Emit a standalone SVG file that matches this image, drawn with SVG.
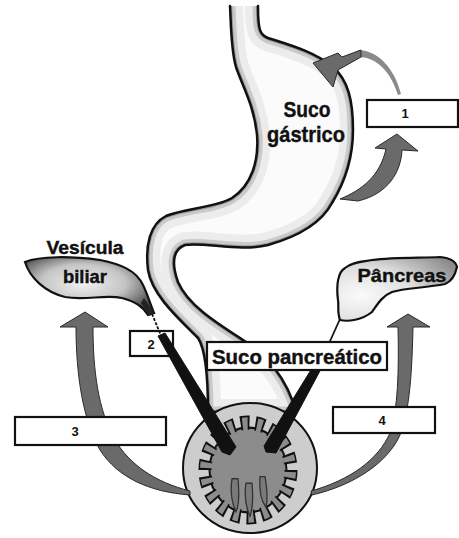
<svg xmlns="http://www.w3.org/2000/svg" width="459" height="538" viewBox="0 0 459 538">
  <style>
    .outline { fill: none; stroke: #111; stroke-width: 2.5; stroke-linejoin: round; stroke-linecap: round; }
    .organ-label { font-family: "Liberation Sans Narrow", "Liberation Sans", Arial, sans-serif; font-weight: bold; fill: #111; stroke: #111; stroke-width: 0.4; }
    .box { fill: #fff; stroke: #111; stroke-width: 2.2; }
    .num { font-family: "Liberation Sans", Arial, sans-serif; font-weight: bold; font-size: 13px; fill: #111; text-anchor: middle; }
    .flow { fill: #6a6a6a; stroke: #2a2a2a; stroke-width: 1; stroke-linejoin: round; }
    .duct { fill: #111; stroke: #111; stroke-width: 1; stroke-linejoin: round; }
  </style>
  <defs>
    <path id="gut" d="M230,6 C231,25 231,50 236,67 C242,85 254,105 257,135 C259,160 252,185 232,198 C215,208 185,208 166,216 C150,224 145,245 148,270 C152,295 178,318 198,338 C206,350 208,380 208,412 L296,412 C288,380 265,352 243,340 C215,322 188,305 178,282 C172,265 172,250 185,245 C205,242 240,252 268,245 C300,236 322,222 332,203 C345,182 353,160 353,130 C353,100 348,80 333,67 C315,52 290,45 268,38 C260,35 258,30 258,6"/>
    <clipPath id="gutClip"><use href="#gut"/></clipPath>
    <radialGradient id="bileFill" cx="0.45" cy="0.45" r="0.6">
      <stop offset="0" stop-color="#f2f2f2"/>
      <stop offset="0.55" stop-color="#c4c4c4"/>
      <stop offset="1" stop-color="#4a4a4a"/>
    </radialGradient>
    <radialGradient id="pancFill" cx="0.2" cy="0.6" r="0.9">
      <stop offset="0" stop-color="#fafafa"/>
      <stop offset="0.5" stop-color="#dedede"/>
      <stop offset="1" stop-color="#8a8a8a"/>
    </radialGradient>
  </defs>

  <rect width="459" height="538" fill="#fff"/>

  <!-- stomach and duodenal tube -->
  <g id="stomach">
    <use href="#gut" fill="#fbfbfb"/>
    <g clip-path="url(#gutClip)" fill="none">
      <use href="#gut" stroke="#ececec" stroke-width="26"/>
      <use href="#gut" stroke="#cacaca" stroke-width="11"/>
      <use href="#gut" stroke="#9a9a9a" stroke-width="4.5"/>
    </g>
    <use href="#gut" class="outline"/>
    <text class="organ-label" x="307" y="117" font-size="22" text-anchor="middle" textLength="47" lengthAdjust="spacingAndGlyphs">Suco</text>
    <text class="organ-label" x="306" y="142" font-size="22" text-anchor="middle" textLength="78" lengthAdjust="spacingAndGlyphs">gástrico</text>
  </g>

  <!-- gallbladder -->
  <g id="gallbladder">
    <path d="M25,262 C40,256 70,256 100,260 C120,264 136,270 143,285 C147,293 150,303 154,313 L148,315 C142,306 136,302 122,298 C105,294 85,301 65,297 C45,292 30,278 25,262 Z" fill="url(#bileFill)" stroke="#111" stroke-width="2.2"/>
    <path d="M144,298 L154,313 L149,316 L141,303 Z" fill="#222"/>
    <text class="organ-label" x="85" y="254" font-size="18" text-anchor="middle" textLength="77" lengthAdjust="spacingAndGlyphs">Vesícula</text>
    <text class="organ-label" x="85" y="283" font-size="18" text-anchor="middle" textLength="44" lengthAdjust="spacingAndGlyphs">biliar</text>
  </g>

  <!-- pancreas -->
  <g id="pancreas">
    <path d="M338,300 C336,285 338,272 345,268 C352,262 362,262 372,260 C395,257 420,258 440,257 C450,258 456,262 457,267 C455,276 450,282 445,284 C425,288 405,288 392,292 C382,296 377,305 372,312 C362,320 348,322 340,320 C337,312 339,306 338,300 Z" fill="url(#pancFill)" stroke="#111" stroke-width="2.2"/>
    <text class="organ-label" x="402" y="282" font-size="19" text-anchor="middle" textLength="89" lengthAdjust="spacingAndGlyphs">Pâncreas</text>
  </g>

  <!-- intestine cross-section with villous lining -->
  <g id="intestine">
    <ellipse cx="250" cy="468" rx="67" ry="65" fill="#cdcdcd" stroke="#111" stroke-width="2"/>
    <g transform="translate(248,470) scale(1,1.1)">
      <!-- body of the lining, then teeth: black dash as outline, grey dash as fill (dash units in degrees) -->
      <circle r="38.5" fill="#8c8c8c" stroke="#111" stroke-width="2"/>
      <circle r="43" pathLength="360" fill="none" stroke="#111" stroke-width="13" stroke-dasharray="12 8"/>
      <circle r="42" pathLength="360" fill="none" stroke="#8c8c8c" stroke-width="12" stroke-dasharray="7 13" stroke-dashoffset="-2.5"/>
      <g fill="#7a7a7a" stroke="#333" stroke-width="1.3">
        <path d="M-16,8 C-18,20 -16,30 -12,38 C-9,32 -9,18 -10,8 Z"/>
        <path d="M-2,12 C-4,24 -2,34 2,42 C5,34 5,22 4,12 Z"/>
        <path d="M12,6 C11,18 13,28 18,34 C20,26 19,16 17,6 Z"/>
      </g>
    </g>
  </g>

  <!-- label boxes -->
  <g id="box-1">
    <rect class="box" x="367" y="100" width="91" height="27"/>
    <text class="num" x="405" y="118">1</text>
  </g>
  <g id="box-2">
    <rect class="box" x="130" y="331" width="43" height="25"/>
    <text class="num" x="151" y="349">2</text>
  </g>

  <!-- connectors: secretion flows and ducts -->
  <g id="connectors">
    <!-- gastric juice into the stomach -->
    <path d="M358,50 C376,50 394,66 401,94 L398,95 C390,70 376,57 358,57 Z" fill="#8a8a8a"/>
    <path class="flow" d="M361,50 L342,57 L338,53 L313,63 L333,87 L338,70 L361,57 Z" fill="#555"/>
    <!-- flow 1 -->
    <path class="flow" d="M375,148 L397,134 L418,151 L402,150 C401,172 388,194 358,201 L340,199 C362,190 380,176 386,149 Z"/>
    <!-- flow 3 -->
    <path class="flow" d="M60,327 L85,312 L108,327 L93,327 C93,370 98,410 115,440 C130,465 155,482 190,491 L190,495 C150,492 118,478 100,450 C83,420 76,375 76,327 Z"/>
    <!-- flow 4 -->
    <path class="flow" d="M387,327 L408,314 L430,327 L413,327 C412,370 410,410 400,435 C388,462 355,485 312,495 L311,491 C350,480 378,460 390,433 C398,410 399,370 398,327 Z"/>
    <!-- bile duct -->
    <path d="M152,314 L162,338" stroke="#111" stroke-width="1.8" stroke-dasharray="3 1.5" fill="none"/>
    <path class="duct" d="M158,336 L165,333 L236,447 L230,455 L222,452 Z"/>
    <!-- pancreatic duct -->
    <path d="M340,319 L326,350" stroke="#111" stroke-width="1.8" fill="none"/>
    <path class="duct" d="M322,352 L329,354 L276,453 L266,452 L264,446 Z"/>
  </g>

  <g id="box-3">
    <rect class="box" x="15" y="417" width="151" height="28"/>
    <text class="num" x="75" y="436">3</text>
  </g>
  <g id="box-4">
    <rect class="box" x="333" y="407" width="102" height="26"/>
    <text class="num" x="382" y="425">4</text>
  </g>
  <g id="box-suco-pancreatico">
    <rect class="box" x="207" y="342" width="180" height="28"/>
    <text class="organ-label" x="297" y="364" font-size="20" text-anchor="middle" textLength="170" lengthAdjust="spacingAndGlyphs">Suco pancreático</text>
  </g>
</svg>
